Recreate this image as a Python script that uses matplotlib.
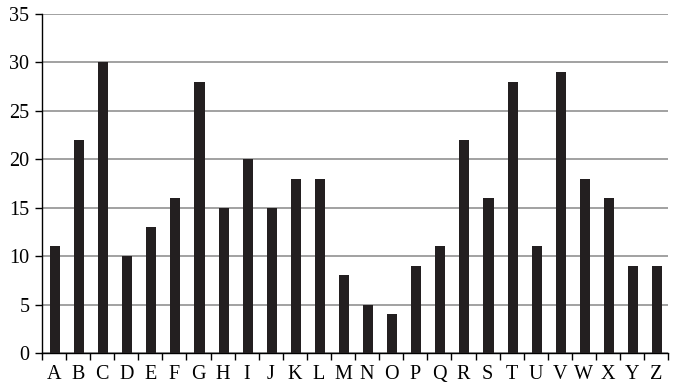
import matplotlib.pyplot as plt
import numpy as np

letters = list("ABCDEFGHIJKLMNOPQRSTUVWXYZ")
values = [11, 22, 30, 10, 13, 16, 28, 15, 20, 15, 18, 18, 8, 5, 4, 9, 11, 22, 16, 28, 11, 29, 18, 16, 9, 9]

plt.rcParams['font.family'] = ['Liberation Serif', 'DejaVu Serif']

fig = plt.figure(figsize=(6.77, 3.92), dpi=100)
ax = fig.add_axes([0.062, 0.0995, 0.925, 0.8655])

x = np.arange(len(letters))
ax.bar(x + 0.04, values, width=0.42, color='#231f20', zorder=3)

ax.set_xlim(-0.5, len(letters) - 0.5)
ax.set_ylim(0, 35)
ax.set_yticks(range(0, 36, 5))
ax.yaxis.grid(True, color='#9a9a9a', linewidth=1.3, zorder=0)

ax.set_xticks(x)
ax.set_xticklabels(letters, fontsize=14.5)
ax.tick_params(axis='x', length=0, pad=9)
ax.set_xticks(np.arange(-0.5, len(letters)), minor=True)
ax.tick_params(axis='x', which='minor', length=5, width=1, direction='out')
ax.tick_params(axis='y', labelsize=14.5, length=5, width=1, pad=4)

for s in ['top', 'right']:
    ax.spines[s].set_visible(False)
ax.spines['left'].set_linewidth(1)
ax.spines['bottom'].set_linewidth(1)

fig.savefig('out.png', dpi=100)
